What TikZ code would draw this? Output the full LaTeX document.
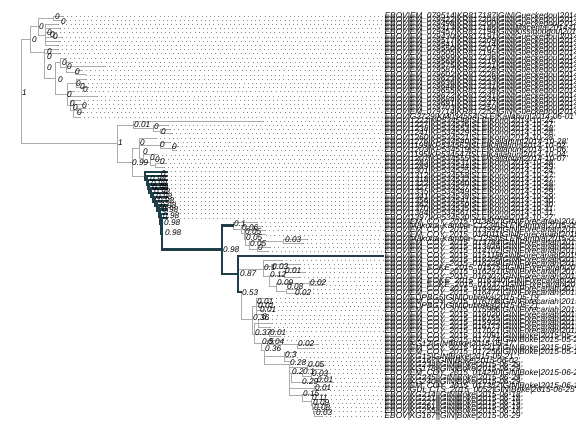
\documentclass[tikz,border=0pt]{standalone}
\usepackage{fontspec}
\setmainfont{Liberation Sans}
\definecolor{edgegray}{HTML}{ABABAB}
\definecolor{darkteal}{HTML}{1E3E48}
\definecolor{dotgray}{HTML}{8C8C8C}
\tikzset{
  edge/.style={draw=edgegray, line width=1pt},
  hlt/.style={draw=darkteal, line width=2.4pt, line cap=rect},
  lead/.style={draw=dotgray, line width=0.8pt, dash pattern=on 0.8pt off 3.4pt},
  nlab/.style={anchor=west, inner sep=0pt, font=\fontsize{8.2}{8.2}\selectfont\itshape},
  tlab/.style={anchor=west, inner sep=0pt, font=\fontsize{8.3}{8.3}\selectfont\itshape}
}
\newcommand\ty[1]{{16+4.2105*#1}}
\newcommand\Hg[3]{\draw[edge] (#1,#3) -- (#2,#3);}
\newcommand\Vg[3]{\draw[edge] (#1,#2) -- (#1,#3);}
\newcommand\Hd[3]{\draw[hlt] (#1,#3) -- (#2,#3);}
\newcommand\Vd[3]{\draw[hlt] (#1,#2) -- (#1,#3);}
\newcommand\Tg[3]{\draw[edge] (#2,\ty{#1}) -- (#3,\ty{#1}); \draw[lead] (#3,\ty{#1}) -- (383,\ty{#1});}
\newcommand\Td[3]{\draw[lead] (#3,\ty{#1}) -- (383,\ty{#1});}
\newcount\lbn
\newcommand\Lb[3]{\global\advance\lbn by 1\relax\node[nlab] (lb\the\lbn) at (#1,#2) {#3};}
\newcommand\Tl[2]{\node[tlab] (t#1) at (384.5,\ty{#1}) {#2};}
\begin{document}
\begin{tikzpicture}[x=1pt,y=-1pt]
\useasboundingbox (0,0) rectangle (576,432);
\clip (0,0) rectangle (576,432);
\fill[white] (0,0) rectangle (576,432);
% ---------- root ----------
\Vg{21}{39.25}{143.6}
\Hg{21}{30}{39.25}
\Hg{21}{117}{143.6}
% ---------- clade A ----------
\Vg{30}{26.5}{52}
\Hg{30}{38}{26.5}
\Vg{38}{18.1}{35}
\Hg{38}{53}{18.1}
\Vg{53}{16}{20.2}
\Tg{0}{53}{63}\Tg{1}{53}{62}
\Hg{38}{45}{35}
\Vg{45}{24.4}{45.5}
\Tg{2}{45}{58}\Tg{3}{45}{60}\Tg{4}{45}{56}\Tg{5}{45}{62}\Tg{6}{45}{60}\Tg{7}{45}{58}
\Hg{30}{44}{52}
\Vg{44}{49.7}{78.5}
\Tg{8}{44}{58}\Tg{9}{44}{60}
\Hg{44}{55}{78.5}
\Vg{55}{62.5}{94.5}
\Hg{55}{60}{62.5}
\Vg{60}{58.1}{67}
\Tg{10}{60}{66}
\Hg{60}{66}{67}
\Vg{66}{62.3}{72.8}
\Tg{11}{66}{72}\Tg{12}{66}{105}
\Hg{66}{75}{72.8}
\Vg{75}{70.7}{74.9}
\Tg{13}{75}{82}\Tg{14}{75}{86}
\Hg{55}{67}{94.5}
\Vg{67}{83.4}{105.5}
\Hg{67}{76}{83.4}
\Vg{76}{79.2}{87.6}
\Tg{15}{76}{86}\Tg{16}{76}{84}\Tg{17}{76}{88}
\Tg{18}{67}{74}\Tg{19}{67}{97}
\Hg{67}{70}{105.5}
\Vg{70}{100.2}{110.75}
\Tg{20}{70}{80}
\Hg{70}{73}{110.75}
\Vg{73}{104.4}{117.1}
\Tg{21}{73}{84}
\Hg{73}{77}{110.7}
\Vg{77}{108.6}{112.8}
\Tg{22}{77}{85}\Tg{23}{77}{83}
\Tg{24}{73}{80}
% ---------- clade B ----------
\Vg{117}{125}{162.2}
\Hg{117}{133}{125}
\Vg{133}{121.3}{128.7}
\Tg{25}{133}{263}
\Hg{133}{153}{128.7}
\Vg{153}{125.5}{131.8}
\Tg{26}{153}{168}
\Hg{153}{160}{131.8}
\Vg{160}{129.7}{133.9}
\Tg{27}{160}{170}\Tg{28}{160}{172}
\Hg{117}{132}{162.2}
\Vg{132}{148.35}{176}
\Hg{132}{139}{148.35}
\Vg{139}{138.1}{158.6}
\Tg{29}{139}{156}
\Hg{139}{160}{145.45}
\Vg{160}{142.3}{148.6}
\Tg{30}{160}{170}
\Hg{160}{172}{148.6}
\Vg{172}{146.5}{150.7}
\Tg{31}{172}{178}\Tg{32}{172}{176}
\Hg{139}{143}{158.6}
\Vg{143}{154.9}{162.35}
\Tg{33}{143}{158}
\Hg{143}{150}{162.35}
\Vg{150}{159.2}{165.5}
\Tg{34}{150}{160}
\Hg{150}{155}{165.5}
\Vg{155}{163.4}{167.6}
\Tg{35}{155}{166}\Tg{36}{155}{164}
\Hg{132}{145}{176}
% ---------- G clade (gray) ----------
\Vg{233}{222.3}{229}
\Tg{49}{233}{257}
\Hg{233}{241}{229}
\Vg{241}{226.5}{233}
\Tg{50}{241}{262}
\Hg{241}{244}{233}
\Vg{244}{230.7}{239}
\Tg{51}{244}{265}
\Hg{244}{245}{239}
\Vg{245}{234.9}{245}
\Tg{52}{245}{266}
\Hg{245}{249}{245}
\Vg{249}{241.3}{249.7}
\Hg{249}{283}{241.3}
\Vg{283}{239.2}{243.4}
\Tg{53}{283}{307}\Tg{54}{283}{303}
\Hg{249}{257}{249.7}
\Vg{257}{247.6}{251.8}
\Tg{55}{257}{270}\Tg{56}{257}{268}
% ---------- S clade (gray) ----------
\Hg{238}{263}{269.8}
\Vg{263}{260.2}{276}
\Tg{58}{263}{282}
\Hg{263}{271}{266.5}
\Vg{271}{264.4}{268.6}
\Tg{59}{271}{300}\Tg{60}{271}{296}
\Hg{263}{269}{276}
\Vg{269}{275}{286.6}
\Hg{269}{284}{275}
\Vg{284}{272.8}{277.1}
\Tg{61}{284}{305}\Tg{62}{284}{300}
\Hg{269}{276}{286.6}
\Vg{276}{283.4}{291.8}
\Hg{276}{309}{283.4}
\Vg{309}{281.3}{285.5}
\Tg{63}{309}{325}\Tg{64}{309}{322}
\Hg{276}{286}{291.8}
\Vg{286}{289.7}{293.9}
\Tg{65}{286}{300}\Tg{66}{286}{305}
% ---------- Q clade (gray) ----------
\Vg{241}{292}{319}
\Hg{241}{252}{319}
\Vg{252}{306.5}{334}
\Hg{252}{256}{306.5}
\Vg{256}{298.1}{314.9}
\Tg{67}{256}{272}\Tg{68}{256}{268}\Tg{69}{256}{266}\Tg{70}{256}{265}\Tg{71}{256}{264}
\Hg{252}{254}{334}
\Vg{254}{323.4}{343}
\Hg{254}{258}{323.4}
\Vg{258}{319.2}{327.6}
\Tg{72}{258}{268}\Tg{73}{258}{272}\Tg{74}{258}{270}
\Hg{254}{269}{334}
\Vg{269}{331.8}{336}
\Tg{75}{269}{282}\Tg{76}{269}{280}
\Hg{254}{261}{343}
\Vg{261}{343}{350}
\Hg{261}{267}{343}
\Vg{267}{340.2}{344.4}
\Tg{77}{267}{283}
\Hg{267}{297}{344.4}
\Vg{297}{344.4}{348.6}
\Tg{78}{297}{318}\Tg{79}{297}{314}
\Hg{261}{264}{350}
\Vg{264}{350}{364}
\Hg{264}{284}{356}
\Vg{284}{352.8}{361.3}
\Tg{80}{284}{296}\Tg{81}{284}{293}\Tg{82}{284}{291}
\Hg{264}{289}{364}
\Vg{289}{364}{395}
\Hg{289}{307}{367.6}
\Vg{307}{365.5}{369.7}
\Tg{83}{307}{325}\Tg{84}{307}{322}
\Hg{289}{291}{373}
\Vg{291}{373}{382.3}
\Hg{291}{302}{373}
\Vg{302}{373}{376}
\Hg{302}{311}{376}
\Vg{311}{373.9}{378.1}
\Tg{85}{311}{330}\Tg{86}{311}{327}
\Tg{87}{291}{333}
\Hg{289}{314}{388.6}
\Vg{314}{386.5}{390.7}
\Tg{88}{314}{328}\Tg{89}{314}{326}
\Hg{289}{302}{395}
\Vg{302}{394.9}{401.3}
\Tg{90}{302}{318}
\Hg{302}{311}{401.3}
\Vg{311}{399.2}{405.5}
\Tg{91}{311}{323}
\Hg{311}{312}{405.5}
\Vg{312}{403.4}{409.7}
\Tg{92}{312}{325}
\Hg{312}{313}{409.7}
\Vg{313}{407.6}{413.9}
\Tg{93}{313}{322}
\Hg{313}{314}{413.9}
\Vg{314}{411.8}{416}
\Tg{94}{314}{326}\Tg{95}{314}{322}
% ---------- dark highlighted lineage ----------
\Td{37}{145}{167}\Td{38}{147}{167}\Td{39}{148}{167}\Td{40}{149}{167}
\Td{41}{151}{167}\Td{42}{153}{167}\Td{43}{155}{167}\Td{44}{157}{167}
\Td{45}{159}{167}\Td{46}{160}{167}\Td{47}{161}{167}\Td{48}{162}{167}
\draw[hlt] (145,\ty{37}) -- (167,\ty{37});
\draw[hlt] (147,\ty{38}) -- (167,\ty{38});
\draw[hlt] (148,\ty{39}) -- (167,\ty{39});
\draw[hlt] (149,\ty{40}) -- (167,\ty{40});
\draw[hlt] (151,\ty{41}) -- (167,\ty{41});
\draw[hlt] (153,\ty{42}) -- (167,\ty{42});
\draw[hlt] (155,\ty{43}) -- (167,\ty{43});
\draw[hlt] (157,\ty{44}) -- (167,\ty{44});
\draw[hlt] (159,\ty{45}) -- (167,\ty{45});
\draw[hlt] (160,\ty{46}) -- (167,\ty{46});
\draw[hlt] (161,\ty{47}) -- (167,\ty{47});
\draw[hlt] (162,\ty{48}) -- (167,\ty{48});
\Vd{145}{171.8}{180.2}\Hd{145}{147}{180.2}
\Vd{147}{176.0}{184.4}\Hd{147}{148}{184.4}
\Vd{148}{180.2}{188.7}\Hd{148}{149}{188.7}
\Vd{149}{184.4}{192.9}\Hd{149}{151}{192.9}
\Vd{151}{188.6}{197.2}\Hd{151}{153}{197.2}
\Vd{153}{192.8}{201.6}\Hd{153}{155}{201.6}
\Vd{155}{197.1}{206.2}\Hd{155}{157}{206.2}
\Vd{157}{201.3}{211.1}\Hd{157}{159}{211.1}
\Vd{159}{205.5}{216.8}\Hd{159}{160}{216.8}
\Vd{160}{209.7}{223.85}\Hd{160}{161}{223.85}
\Vd{161}{213.9}{233.8}\Hd{161}{162}{233.8}
\Vd{162}{218.1}{249.5}
\Hd{162}{222}{249.5}
\Vd{222}{225.6}{274}
\Hd{222}{233}{225.6}
\Hd{222}{238}{274}
\Vd{238}{256}{292}
\Hd{238}{383}{256}
\Hd{238}{241}{292}
% ---------- node labels ----------
\Lb{22}{93}{1}
\Lb{55}{17}{0}\Lb{61}{22}{0}\Lb{39}{27}{0}\Lb{47}{33}{0}\Lb{50}{35}{0}\Lb{53}{37}{0}
\Lb{32}{40}{0}\Lb{47}{52}{0}\Lb{47}{57}{0}\Lb{47}{68}{0}\Lb{62}{63}{0}\Lb{67}{67}{0}
\Lb{75}{72}{0}\Lb{58}{80}{0}\Lb{76}{84}{0}\Lb{80}{87}{0}\Lb{83}{90}{0}\Lb{67}{95}{0}
\Lb{70}{104}{0}\Lb{82}{106}{0}\Lb{73}{108}{0}\Lb{77}{113}{0}
\Lb{134}{125}{0.01}\Lb{154}{127}{0}\Lb{161}{132}{0}
\Lb{118}{143}{1}\Lb{132}{163}{0.99}
\Lb{140}{143}{0}\Lb{160}{145}{0}\Lb{172}{147}{0}\Lb{143}{152}{0}\Lb{150}{158}{0}\Lb{155}{160}{0}\Lb{160}{162}{0}
\Lb{161}{174}{0}
\Lb{150}{179}{0.98}\Lb{151}{183.4}{0.98}\Lb{152}{187.7}{0.98}\Lb{154}{191.9}{0.98}
\Lb{156}{196.2}{0.98}\Lb{158}{200.6}{0.98}\Lb{160}{205.2}{0.98}\Lb{162}{210.1}{0.98}
\Lb{163}{215.8}{0.98}\Lb{164}{222.9}{0.98}\Lb{165}{232.8}{0.98}
\Lb{223}{250}{0.98}
\Lb{234}{224}{0.1}\Lb{242}{228}{0.06}\Lb{245}{232}{0.05}\Lb{246}{238}{0.05}\Lb{250}{244}{0.05}\Lb{258}{248}{0}\Lb{285}{240}{0.03}
\Lb{240}{274}{0.87}
\Lb{264}{268}{0.1}\Lb{272}{267}{0.03}\Lb{270}{275}{0.12}\Lb{285}{271}{0.01}\Lb{277}{283}{0.09}\Lb{287}{287}{0.08}\Lb{310}{283}{0.02}\Lb{295}{293}{0.02}
\Lb{242}{293}{0.53}
\Lb{257}{302}{0.01}\Lb{258}{306}{0.01}\Lb{260}{310}{0.01}\Lb{253}{318}{0.36}\Lb{262}{317}{0}
\Lb{255}{333}{0.37}\Lb{270}{333}{0.01}\Lb{262}{342}{0.5}\Lb{268}{342}{0.04}\Lb{298}{344}{0.02}\Lb{265}{349}{0.36}
\Lb{285}{355}{0.3}\Lb{290}{363}{0.28}\Lb{308}{365}{0.05}\Lb{292}{372}{0.2}\Lb{303}{372}{0.1}\Lb{312}{374}{0.03}
\Lb{317}{380}{0.01}\Lb{302}{382}{0.29}\Lb{315}{388}{0.01}\Lb{303}{394}{0.15}\Lb{312}{398}{0.11}\Lb{313}{403}{0.09}
\Lb{314}{408}{0.08}\Lb{316}{413}{0.03}
% ---------- tip labels ----------
\Tl{0}{EBOV|EM\_079514|KR817187|GIN|Gueckedou|2014-03-27'}
\Tl{1}{EBOV|EM\_079422|KR817204|GIN|Gueckedou|2014-03-31'}
\Tl{2}{EBOV|EM\_079498|KR817200|GIN|Gueckedou|2014-04-01'}
\Tl{3}{EBOV|EM\_079413|KR817186|GIN|Macenta|2014-03-31'}
\Tl{4}{EBOV|EM\_079457|KR817194|GIN|Kissidougou|2014-04-02'}
\Tl{5}{EBOV|EM\_079430|KR817191|GIN|Gueckedou|2014-04-03'}
\Tl{6}{EBOV|EM\_079517|KR817209|GIN|Gueckedou|2014-04-07'}
\Tl{7}{EBOV|EM\_079541|KR817214|GIN|Gueckedou|2014-04-06'}
\Tl{8}{EBOV|EM\_079550|KR817207|GIN|Gueckedou|2014-04-09'}
\Tl{9}{EBOV|EM\_079505|KR817195|GIN|Gueckedou|2014-04-05'}
\Tl{10}{EBOV|EM\_079699|KR817236|GIN|Gueckedou|2014-04-18'}
\Tl{11}{EBOV|EM\_079569|KR817219|GIN|Gueckedou|2014-04-10'}
\Tl{12}{EBOV|EM\_079575|KR817221|GIN|Gueckedou|2014-04-11'}
\Tl{13}{EBOV|EM\_079587|KR817228|GIN|Gueckedou|2014-04-12'}
\Tl{14}{EBOV|EM\_079602|KR817226|GIN|Gueckedou|2014-04-13'}
\Tl{15}{EBOV|EM\_079623|KR817229|GIN|Gueckedou|2014-04-14'}
\Tl{16}{EBOV|EM\_079636|KR817233|GIN|Gueckedou|2014-04-15'}
\Tl{17}{EBOV|EM\_079648|KR817231|GIN|Gueckedou|2014-04-16'}
\Tl{18}{EBOV|EM\_079655|KR817238|GIN|Gueckedou|2014-04-17'}
\Tl{19}{EBOV|EM\_079672|KR817241|GIN|Gueckedou|2014-04-19'}
\Tl{20}{EBOV|EM\_079684|KR817244|GIN|Gueckedou|2014-04-20'}
\Tl{21}{EBOV|EM\_079691|KR817247|GIN|Gueckedou|2014-04-21'}
\Tl{22}{EBOV|EM\_079703|KR817250|GIN|Gueckedou|2014-04-22'}
\Tl{23}{EBOV|EM\_079714|KR817252|GIN|Gueckedou|2014-04-23'}
\Tl{24}{EBOV|G3729|KM034554|SLE|Kailahun|2014-06-01'}
\Tl{25}{EBOV|1222|KP534548|SLE|Kono|2014-10-24'}
\Tl{26}{EBOV|1227|KP534536|SLE|Kono|2014-10-27'}
\Tl{27}{EBOV|1238|KP534553|SLE|Kono|2014-10-28'}
\Tl{28}{EBOV|1241|KP534529|SLE|Kono|2014-10-28'}
\Tl{29}{EBOV|1260|KP534521|SLE|Kono|2014-10-28'}
\Tl{30}{EBOV|1276|KP534540|SLE|Kailahun|2014-10-28'}
\Tl{31}{EBOV|1199|KP534562|SLE|Kailahun|2014-10-02'}
\Tl{32}{EBOV|1203|KP534519|SLE|Kailahun|2014-10-06'}
\Tl{33}{EBOV|1195|KP534547|SLE|Kailahun|2014-10-04'}
\Tl{34}{EBOV|1207|KP534555|SLE|Kailahun|2014-10-07'}
\Tl{35}{EBOV|1283|KP534531|SLE|Kono|2014-10-28'}
\Tl{36}{EBOV|1289|KP534544|SLE|Kono|2014-10-29'}
\Tl{37}{EBOV|1301|KP534525|SLE|Kono|2014-10-24'}
\Tl{38}{EBOV|1312|KP534558|SLE|Kono|2014-10-27'}
\Tl{39}{EBOV|1318|KP534532|SLE|Kono|2014-10-27'}
\Tl{40}{EBOV|1322|KP534560|SLE|Kono|2014-10-28'}
\Tl{41}{EBOV|1327|KP534527|SLE|Kono|2014-10-28'}
\Tl{42}{EBOV|1335|KP534549|SLE|Kono|2014-10-29'}
\Tl{43}{EBOV|1341|KP534538|SLE|Kono|2014-10-29'}
\Tl{44}{EBOV|1356|KP534541|SLE|Kono|2014-10-30'}
\Tl{45}{EBOV|1362|KP534550|SLE|Kono|2014-10-30'}
\Tl{46}{EBOV|1370|KP534535|SLE|Kono|2014-10-31'}
\Tl{47}{EBOV|1384|KP534561|SLE|Kono|2014-10-31'}
\Tl{48}{EBOV|1397|KP534530|SLE|Kono|2014-10-27'}
\Tl{49}{EBOV|EM\_COY\_2015\_013857|GIN|Forecariah|2015-05-25'}
\Tl{50}{EBOV|Makona-Kambia-C1234|SLE|Kambia|2015-05-12'}
\Tl{51}{EBOV|EM\_COY\_2015\_013992|GIN|Forecariah|2015-05-27'}
\Tl{52}{EBOV|EM\_COY\_2015\_014011|GIN|Forecariah|2015-05-28'}
\Tl{53}{EBOV|Makona-Kambia-C1253|SLE|Kambia|2015-03-21'}
\Tl{54}{EBOV|EM\_COY\_2015\_013784|GIN|Forecariah|2015-05-22'}
\Tl{55}{EBOV|EM\_COY\_2015\_013826|GIN|Forecariah|2015-05-24'}
\Tl{56}{EBOV|EM\_COY\_2015\_014102|GIN|Forecariah|2015-05-30'}
\Tl{57}{EBOV|EM\_COY\_2015\_015118|GIN|Forecariah|2015-06-04'}
\Tl{58}{EBOV|EM\_COY\_2015\_016205|GIN|Forecariah|2015-06-08'}
\Tl{59}{EBOV|EM\_COY\_2015\_016229|GIN|Forecariah|2015-06-09'}
\Tl{60}{EBOV|EM\_EOKE\_2015\_015751|GIN|Forecariah|2015-06-05'}
\Tl{61}{EBOV|EM\_COY\_2015\_016291|GIN|Forecariah|2015-06-10'}
\Tl{62}{EBOV|EM\_COY\_2015\_016307|GIN|Forecariah|2015-06-11'}
\Tl{63}{EBOV|EM\_EOKE\_2015\_016340|GIN|Forecariah|2015-06-12'}
\Tl{64}{EBOV|EM\_EOKE\_2015\_016371|GIN|Forecariah|2015-06-13'}
\Tl{65}{EBOV|EM\_COY\_2015\_016402|GIN|Forecariah|2015-06-14'}
\Tl{66}{EBOV|EM\_COY\_2015\_016477|GIN|Forecariah|2015-06-15'}
\Tl{67}{EBOV|EDPBG5|GIN|Dubreka|2015-05-19'}
\Tl{68}{EBOV|EM\_COY\_2015\_016108|GIN|Forecariah|2015-06-07'}
\Tl{69}{EBOV|EDPBG7|GIN|Dubreka|2015-05-21'}
\Tl{70}{EBOV|EM\_COY\_2015\_015966|GIN|Forecariah|2015-06-03'}
\Tl{71}{EBOV|EM\_COY\_2015\_016020|GIN|Forecariah|2015-06-05'}
\Tl{72}{EBOV|EM\_COY\_2015\_016155|GIN|Forecariah|2015-06-08'}
\Tl{73}{EBOV|EM\_COY\_2015\_015922|GIN|Forecariah|2015-06-02'}
\Tl{74}{EBOV|EM\_COY\_2015\_016173|GIN|Forecariah|2015-06-09'}
\Tl{75}{EBOV|EM\_COY\_2015\_017021|GIN|Forecariah|2015-05-26'}
\Tl{76}{EBOV|EM\_COY\_2015\_017091|GIN|Boke|2015-05-27'}
\Tl{77}{EBOV|EM\_COY\_2015\_017174|GIN|Boke|2015-05-28'}
\Tl{78}{EBOV|KG12|GIN|Boke|2015-05-17'}
\Tl{79}{EBOV|EM\_COY\_2015\_017213|GIN|Boke|2015-05-18'}
\Tl{80}{EBOV|EM\_COY\_2015\_017256|GIN|Boke|2015-05-19'}
\Tl{81}{EBOV|KG15|GIN|Boke|2015-05-21'}
\Tl{82}{EBOV|KG167|GIN|Boke|2015-06-02'}
\Tl{83}{EBOV|KG234||GIN|Boke|2015-06-29'}
\Tl{84}{EBOV|KG178||GIN|Boke|2015-06-29'}
\Tl{85}{EBOV|EM\_COY\_2015\_014250|GIN|Boke|2015-06-20'}
\Tl{86}{EBOV|KG245||GIN|Boke|2015-06-29'}
\Tl{87}{EBOV|KG240||GIN|Boke|2015-06-29'}
\Tl{88}{EBOV|EM\_COY\_2015\_017357|GIN|Boke|2015-06-16'}
\Tl{89}{EBOV|GUI\_CTS\_2015\_0052|GIN|Boke|2015-06-25'}
\Tl{90}{EBOV|KG214||GIN|Boke|2015-06-18'}
\Tl{91}{EBOV|KG221||GIN|Boke|2015-06-18'}
\Tl{92}{EBOV|KG227||GIN|Boke|2015-06-19'}
\Tl{93}{EBOV|KG261||GIN|Boke|2015-06-19'}
\Tl{94}{EBOV|KG255||GIN|Boke|2015-06-18'}
\Tl{95}{EBOV|KG167||GIN|Boke|2015-06-29'}
\end{tikzpicture}
\end{document}
